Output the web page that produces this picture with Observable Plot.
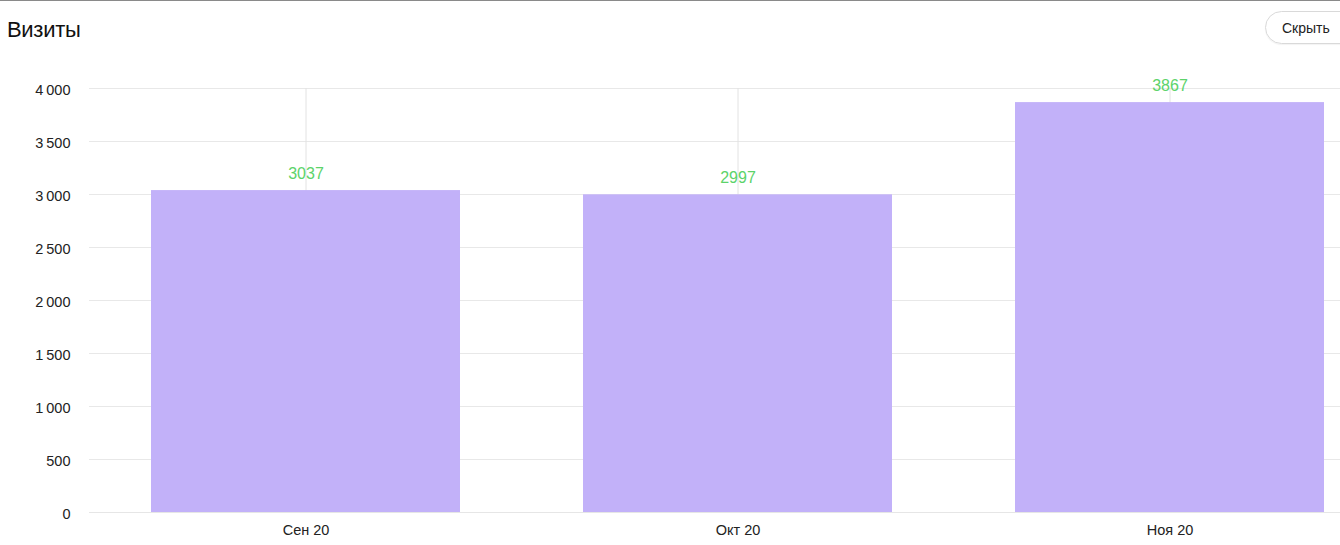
<!DOCTYPE html>
<html><head><meta charset="utf-8">
<script src="https://cdn.jsdelivr.net/npm/d3@7"></script>
<script src="https://cdn.jsdelivr.net/npm/@observablehq/plot@0.6"></script>
<style>
html,body{margin:0;padding:0;background:#fff;overflow:hidden;width:1340px;height:545px}
body{border-top:1px solid #8a8a8a;box-sizing:border-box;font-family:"Liberation Sans",Arial,sans-serif;position:relative}
#head{height:59px;position:relative}
#title{position:absolute;left:7px;top:16px;font-size:22px;color:#111;letter-spacing:-0.3px}
#btn{position:absolute;left:1265px;top:10px;width:100px;height:33px;border:1px solid #d9d9d9;border-radius:17px;box-sizing:border-box;font-size:14px;color:#222;padding:8px 0 0 16px;box-shadow:0 1px 1px rgba(0,0,0,0.05)}
#chart{width:1340px;overflow:hidden}
#chart svg{display:block;max-width:none !important}
</style></head>
<body>
<div id="head"><div id="title">Визиты</div><div id="btn">Скрыть</div></div>
<div id="chart"></div>
<script>
const months = ["Сен 20", "Окт 20", "Ноя 20"];
const visits = [3037, 2997, 3867];
const yTicks = [0, 500, 1000, 1500, 2000, 2500, 3000, 3500, 4000];

const data = months.map((m, i) => ({month: m, value: visits[i]}));
const fmt = d => d >= 1000 ? d3.format(",")(d).replace(",", "\u2009") : String(d);

const chart = Plot.plot({
  width: 1400,
  height: 486,
  marginLeft: 89,
  marginRight: 13,
  marginTop: 28,
  marginBottom: 34,
  style: {fontFamily: "'Liberation Sans', Arial, sans-serif", fontSize: "14px", color: "#222", background: "#fff", maxWidth: "none"},
  x: {domain: months, paddingInner: 0.284, paddingOuter: 0.142, label: null},
  y: {domain: [0, 4000], label: null},
  marks: [
    Plot.ruleY(yTicks, {stroke: "#e8e8e8", strokeWidth: 1}),
    Plot.ruleX(months, {x: d => d, stroke: "#e2e2e2", strokeWidth: 1}),
    Plot.ruleX([0], {frameAnchor: "left", stroke: "#e6e6e6"}),
    Plot.barY(data, {x: "month", y: "value", fill: "#c2b1f9"}),
    Plot.ruleY([0], {stroke: "#e6e6e6"}),
    Plot.text(data, {x: "month", y: "value", text: d => String(d.value), dy: -17, fill: "#5cd36a", fontSize: 16}),
    Plot.axisY({ticks: yTicks, tickFormat: fmt, tickSize: 0, tickPadding: 19, fontSize: 14.5, dy: 2}),
    Plot.axisX({tickSize: 0, tickPadding: 12, fontSize: 14.5})
  ]
});
document.getElementById("chart").append(chart);
</script>
</body></html>
